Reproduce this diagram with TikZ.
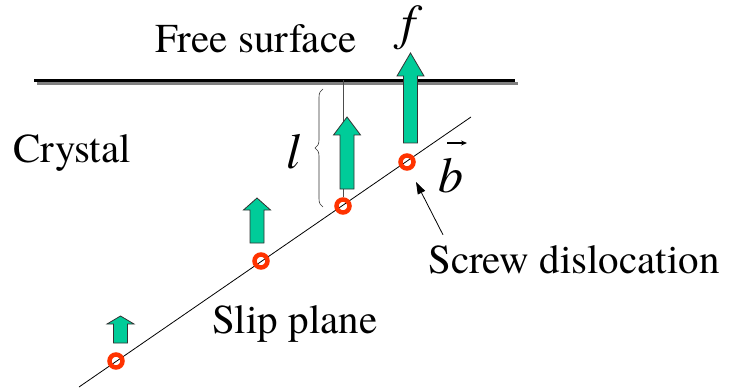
\documentclass[tikz,border=0pt]{standalone}
\usepackage{fontspec}
\setmainfont{texgyretermes}[Extension=.otf, UprightFont=*-regular, ItalicFont=*-italic, BoldFont=*-bold]
\usepackage{tikz}
\usetikzlibrary{arrows.meta,decorations.pathreplacing}
\definecolor{forcegreen}{RGB}{0,204,153}
\definecolor{ringred}{RGB}{255,51,0}

\begin{document}
\begin{tikzpicture}[x=1pt, y=-1pt,
  txt/.style={inner sep=0pt, font=\rmfamily\fontsize{41}{49}\selectfont},
  sym/.style={inner sep=0pt, font=\rmfamily\fontsize{50}{60}\selectfont\itshape},
  disloc/.style={circle, draw=ringred, line width=4.5pt, minimum size=13pt, inner sep=0pt},
  force/.style={draw=black!80, fill=forcegreen, line width=0.8pt}]
\useasboundingbox (0,0) rectangle (730,390);
%--- Free surface ---
\coordinate (sl) at (34,80.5);
\coordinate (sr) at (515,80.5);
\draw[gray, line width=3pt] ([shift={(3,3)}]sl) -- ([shift={(3,3)}]sr);
\draw[line width=3pt] (sl) -- (sr);
\node[txt, anchor=base west] (surf) at (155,53) {Free surface};
\node[txt, anchor=base west] (cry) at (13,163) {Crystal};
%--- Slip plane and dislocations ---
\coordinate (pa) at (79,387);
\coordinate (pb) at (471,117);
\draw[line width=0.8pt] (pa) -- (pb);
\node[txt, anchor=base west] (slip) at (212,333) {Slip plane};
\node[disloc] (d1) at (116,361) {};
\node[disloc] (d2) at (261,261) {};
\node[disloc] (d3) at (343,206) {};
\node[disloc] (d4) at (407,162) {};
% Distance to surface
\draw[black!70, line width=1pt] (d3.north) -- (d3.north |- sl);
\draw[decorate, decoration={brace, amplitude=8pt}, black!80, line width=0.6pt] (323,207) -- (323,89);
\node[sym, anchor=base] (len) at (293,168) {l};
% Image forces
\draw[force] (113.5,343) -- (113.5,324) -- (107,324) -- (120.5,316) -- (134,324) -- (127.5,324) -- (127.5,343) -- cycle;
\draw[force] (250,243) -- (250,210) -- (243.5,210) -- (257,198) -- (270.5,210) -- (264,210) -- (264,243) -- cycle;
\draw[force] (340,189) -- (340,135) -- (333.5,135) -- (347,117) -- (360.5,135) -- (354,135) -- (354,189) -- cycle;
\draw[force] (403.5,143) -- (403.5,76) -- (397,76) -- (410.5,53) -- (424,76) -- (417.5,76) -- (417.5,143) -- cycle;
\node[sym, anchor=base] (fval) at (408,40) {f};
% Burgers vector
\node[sym, anchor=base] (bvec) at (451,193) {b};
\draw[-{Stealth[length=6pt, width=5pt]}, line width=1.2pt] (447,143) -- (467,143);
% Pointer
\node[txt, anchor=base west] (sd) at (428,273) {Screw dislocation};
\coordinate (ptip) at (416,182);
\draw[-{Triangle[length=12pt, width=8pt]}, line width=0.8pt] ([shift={(15,-10)}]sd.north west) -- (ptip);
\end{tikzpicture}
\end{document}
